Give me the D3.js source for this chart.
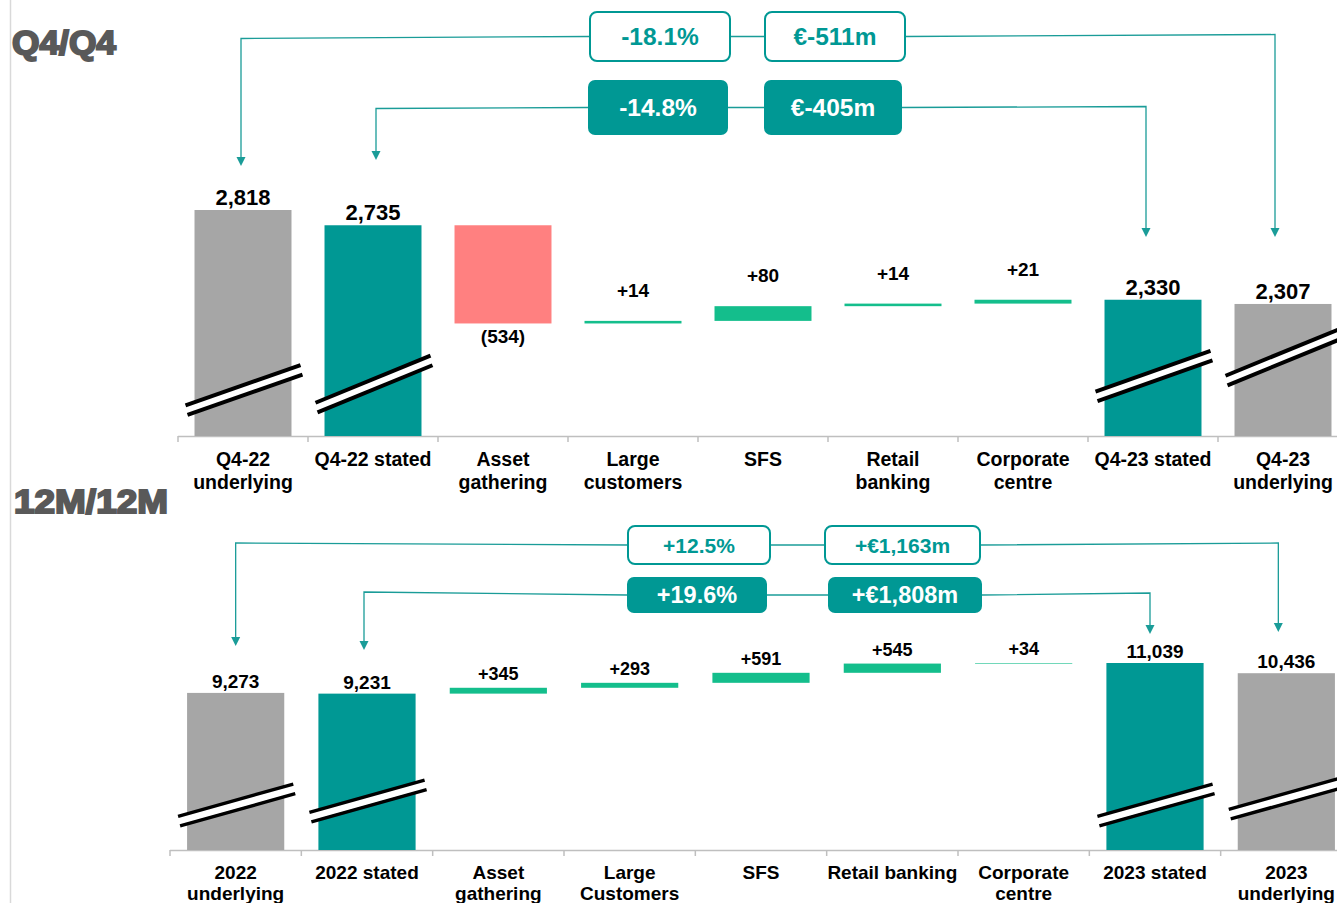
<!DOCTYPE html>
<html><head><meta charset="utf-8">
<script src="https://cdn.jsdelivr.net/npm/d3@7"></script>
<style>body{margin:0;background:#fff;overflow:hidden} svg{display:block;font-family:"Liberation Sans",Arial,sans-serif;}</style>
</head><body><svg id="c" width="1337" height="903"></svg>
<script>
// ---------- DATA ----------
const sectionTitles = ["Q4/Q4", "12M/12M"];
const q4Categories = ["Q4-22\nunderlying", "Q4-22 stated", "Asset\ngathering", "Large\ncustomers", "SFS", "Retail\nbanking", "Corporate\ncentre", "Q4-23 stated", "Q4-23\nunderlying"];
const q4Values = [2818, 2735, -534, 14, 80, 14, 21, 2330, 2307];
const q4Labels = ["2,818", "2,735", "(534)", "+14", "+80", "+14", "+21", "2,330", "2,307"];
const q4Boxes = [["-18.1%", "€-511m"], ["-14.8%", "€-405m"]];

const fyCategories = ["2022\nunderlying", "2022 stated", "Asset\ngathering", "Large\nCustomers", "SFS", "Retail banking", "Corporate\ncentre", "2023 stated", "2023\nunderlying"];
const fyValues = [9273, 9231, 345, 293, 591, 545, 34, 11039, 10436];
const fyLabels = ["9,273", "9,231", "+345", "+293", "+591", "+545", "+34", "11,039", "10,436"];
const fyBoxes = [["+12.5%", "+€1,163m"], ["+19.6%", "+€1,808m"]];

const barKinds = ["underlying", "stated", "delta", "delta", "delta", "delta", "delta", "stated", "underlying"];

// ---------- STYLE ----------
const COL = {
  underlying: "#A6A6A6", stated: "#009894", up: "#14BE8C", down: "#FF8080",
  axis: "#BFBFBF", link: "#1A9C98", text: "#000000", title: "#595959"
};

const svg = d3.select("#c");
svg.append("line").attr("x1", 10.5).attr("x2", 10.5).attr("y1", 0).attr("y2", 903)
  .attr("stroke", "#D9D9D9").attr("stroke-width", 1.5);

function drawChart(cfg) {
  const g = svg.append("g");
  const n = cfg.categories.length;
  const x = d3.scaleBand().domain(d3.range(n)).range(cfg.xRange)
    .paddingInner(cfg.pad).paddingOuter(cfg.pad / 2);
  const y = d3.scaleLinear().domain(cfg.yDomain).range(cfg.yRange);
  const base = cfg.yDomain[0];

  let running = 0;
  const bars = cfg.values.map((v, i) => {
    const kind = barKinds[i];
    if (kind !== "delta") {
      if (kind === "stated") running = v;
      return { i, kind, lo: base, hi: v, v };
    }
    const s = running; running += v;
    return { i, kind: v < 0 ? "down" : "up", lo: Math.min(s, running), hi: Math.max(s, running), v };
  });

  // axis
  const step = x.step();
  const x0 = cfg.xRange[0];
  g.append("line").attr("x1", x0).attr("x2", 1337).attr("y1", cfg.axisY + 0.5).attr("y2", cfg.axisY + 0.5)
    .attr("stroke", COL.axis).attr("stroke-width", 1.5);
  g.selectAll(".tk").data(d3.range(n + 1)).join("line")
    .attr("x1", d => x0 + d * step).attr("x2", d => x0 + d * step)
    .attr("y1", cfg.axisY).attr("y2", cfg.axisY + 6)
    .attr("stroke", COL.axis).attr("stroke-width", 1.5);

  // bars
  g.selectAll(".bar").data(bars).join("rect")
    .attr("x", d => x(d.i)).attr("width", x.bandwidth())
    .attr("y", d => y(d.hi)).attr("height", d => Math.max(0.6, y(d.lo) - y(d.hi)))
    .attr("fill", d => COL[d.kind]);

  // break marks
  bars.forEach(d => {
    const br = cfg.breaks[d.i];
    if (!br) return;
    const xa = x(d.i) - 9, xb = x(d.i) + x.bandwidth() + 9, xc = x(d.i) + x.bandwidth() / 2;
    const yc = cfg.axisY - br.off;
    const yy = xx => yc + br.slope * (xx - xc);
    g.append("line").attr("x1", xa).attr("x2", xb).attr("y1", yy(xa)).attr("y2", yy(xb))
      .attr("stroke", "#fff").attr("stroke-width", 8);
    [-4.8, 4.8].forEach(o => {
      g.append("line").attr("x1", xa + (o > 0 ? 2 : 0)).attr("x2", xb + (o > 0 ? 2 : 0))
        .attr("y1", yy(xa) + o).attr("y2", yy(xb) + o)
        .attr("stroke", "#000").attr("stroke-width", br.w);
    });
  });

  // value labels
  g.selectAll(".vl").data(bars).join("text")
    .attr("x", d => x(d.i) + x.bandwidth() / 2)
    .attr("y", d => d.kind === "down" ? y(d.lo) + cfg.negGap
      : (d.kind === "up" ? y(d.hi) - cfg.floatGap : y(d.hi) - cfg.totalGap))
    .attr("text-anchor", "middle").attr("font-weight", "bold")
    .attr("font-size", d => (d.kind === "underlying" || d.kind === "stated") ? cfg.totalFont : cfg.floatFont)
    .attr("fill", COL.text)
    .text((d, i) => cfg.labels[i]);

  // category labels
  cfg.categories.forEach((c, i) => {
    const t = g.append("text").attr("text-anchor", "middle").attr("font-weight", "bold")
      .attr("font-size", cfg.axisFont).attr("fill", COL.text);
    c.split("\n").forEach((line, k) => {
      t.append("tspan").attr("x", x(i) + x.bandwidth() / 2).attr("y", cfg.labelY + k * cfg.lineH).text(line);
    });
  });

  // boxes and connectors
  cfg.rows.forEach((row, r) => {
    const conn = cfg.conns[r];
    const ym = row.y + row.h / 2;
    const xl = x(conn.from) + x.bandwidth() / 2 + conn.dxL;
    const xr = x(conn.to) + x.bandwidth() / 2 + conn.dxR;
    const b1 = row.b1, b2 = row.b2;
    const line = d3.line();
    const paths = [
      [[xl, conn.tipL - 8], [xl, ym + conn.dyL], [b1[0], ym]],
      [[b1[0] + b1[1], ym], [b2[0], ym]],
      [[b2[0] + b2[1], ym], [xr, ym + conn.dyR], [xr, conn.tipR - 8]]
    ];
    paths.forEach(p => g.append("path").attr("d", line(p)).attr("fill", "none")
      .attr("stroke", COL.link).attr("stroke-width", 1.3));
    [[xl, conn.tipL], [xr, conn.tipR]].forEach(([ax, ay]) => {
      g.append("path").attr("d", `M${ax - 4.5},${ay - 9}L${ax + 4.5},${ay - 9}L${ax},${ay}Z`).attr("fill", COL.link);
    });
    [b1, b2].forEach((b, k) => {
      g.append("rect").attr("x", b[0]).attr("y", row.y).attr("width", b[1]).attr("height", row.h)
        .attr("rx", 7).attr("ry", 7)
        .attr("fill", row.filled ? COL.stated : "#fff")
        .attr("stroke", COL.stated).attr("stroke-width", row.filled ? 0 : 2);
      g.append("text").attr("x", b[0] + b[1] / 2).attr("y", ym + row.font * 0.36)
        .attr("text-anchor", "middle").attr("font-weight", "bold").attr("font-size", row.font)
        .attr("fill", row.filled ? "#fff" : COL.stated)
        .text(cfg.boxes[r][k]);
    });
  });
}

// section titles
[[12, 54, 104], [14, 513, 154]].forEach(([tx, ty, tw], i) => {
  svg.append("text").attr("x", tx).attr("y", ty).attr("font-size", 33).attr("font-weight", "bold")
    .attr("fill", COL.title).attr("stroke", COL.title).attr("stroke-width", 2)
    .attr("textLength", tw).attr("lengthAdjust", "spacingAndGlyphs")
    .text(sectionTitles[i]);
});

drawChart({
  categories: q4Categories, values: q4Values, labels: q4Labels, boxes: q4Boxes,
  xRange: [178, 1348], pad: 0.254, yDomain: [1589, 2818], yRange: [436, 210], axisY: 436,
  labelY: 466, lineH: 23, axisFont: 19.5, totalFont: 22, floatFont: 19,
  totalGap: 5, floatGap: 24, negGap: 20,
  breaks: [{ off: 46, slope: -0.35, w: 4 }, { off: 52, slope: -0.41, w: 4 }, null, null, null, null, null,
    { off: 60, slope: -0.355, w: 4 }, { off: 79, slope: -0.41, w: 4 }],
  rows: [
    { y: 12, h: 49, filled: false, font: 24.5, b1: [590, 140], b2: [765, 140] },
    { y: 80, h: 55, filled: true, font: 24.5, b1: [588, 140], b2: [764, 138] }
  ],
  conns: [
    { from: 0, to: 8, dxL: -2, dxR: -8, tipL: 166, tipR: 237, dyL: 2, dyR: -2 },
    { from: 1, to: 7, dxL: 3, dxR: -7, tipL: 160, tipR: 237, dyL: 1, dyR: -1 }
  ]
});

drawChart({
  categories: fyCategories, values: fyValues, labels: fyLabels, boxes: fyBoxes,
  xRange: [170, 1352], pad: 0.26, yDomain: [0, 11039], yRange: [850, 663], axisY: 850,
  labelY: 879, lineH: 21, axisFont: 19, totalFont: 19, floatFont: 18,
  totalGap: 5, floatGap: 8, negGap: 20,
  breaks: [{ off: 45, slope: -0.28, w: 3.4 }, { off: 49, slope: -0.28, w: 3.4 }, null, null, null, null, null,
    { off: 45, slope: -0.28, w: 3.4 }, { off: 52, slope: -0.28, w: 3.4 }],
  rows: [
    { y: 526, h: 38, filled: false, font: 21, b1: [628, 142], b2: [825, 155] },
    { y: 577, h: 36, filled: true, font: 23.5, b1: [627, 140], b2: [828, 154] }
  ],
  conns: [
    { from: 0, to: 8, dxL: 0, dxR: -8, tipL: 646, tipR: 632, dyL: -2, dyR: -2 },
    { from: 1, to: 7, dxL: -3, dxR: -5, tipL: 650, tipR: 634, dyL: -3, dyR: -2 }
  ]
});
</script></body></html>
